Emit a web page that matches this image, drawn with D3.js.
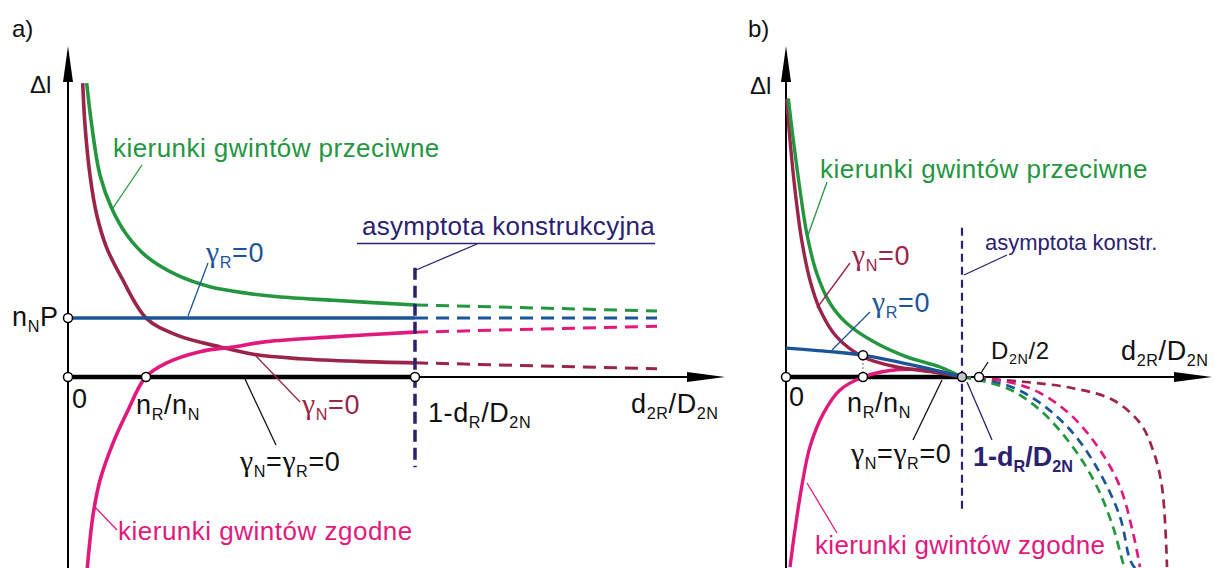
<!DOCTYPE html>
<html>
<head>
<meta charset="utf-8">
<title>Δl – d2R/D2N</title>
<script src="https://d3js.org/d3.v7.min.js"></script>
<style>
  body { margin: 0; background: #fff; }
  svg { display: block; font-family: "Liberation Sans", Arial, sans-serif; }
</style>
</head>
<body>
<svg width="1214" height="568"></svg>
<script>
var GREEN = "#24963f", MAROON = "#9b2549", BLUE = "#1c5597", PINK = "#e1197d", NAVY = "#2a2170";

// ---- panel a) : x in 1/100 of axis length, y in units of nN*P ----
var aGreen  = [[0.187,4.98],[0.237,4.27],[0.32,3.42],[0.437,2.86],[0.587,2.41],[0.787,2.04],[1.087,1.73],[1.42,1.53],[1.787,1.42],[2.10,1.36],[2.65,1.30],[3.47,1.22]];
var aMaroon = [[0.147,4.98],[0.17,4.27],[0.22,3.42],[0.287,2.75],[0.387,2.19],[0.537,1.68],[0.787,0.99],[1.087,0.71],[1.52,0.51],[1.87,0.38],[2.32,0.31],[2.9,0.265],[3.47,0.24]];
var aPink   = [[0.193,-3.24],[0.22,-2.76],[0.253,-2.31],[0.32,-1.75],[0.45,-1.12],[0.587,-0.61],[0.777,0],[0.987,0.24],[1.32,0.43],[1.65,0.51],[1.987,0.60],[2.65,0.68],[3.47,0.76]];
var aBlue   = [[0,1],[3.47,1]];
var aGreenD  = [[3.47,1.22],[5.89,1.12]];
var aBlueD   = [[3.47,1],[5.89,1]];
var aPinkD   = [[3.47,0.76],[5.89,0.86]];
var aMaroonD = [[3.47,0.24],[5.89,0.14]];
var aAsym = [[3.47,1.85],[3.47,-1.53]];
var aPoints = [[0,0],[0.78,0],[3.47,0],[0,1]];

// ---- panel b) ----
var bGreen  = [[0.023,4.72],[0.073,4.02],[0.14,3.17],[0.207,2.44],[0.307,1.76],[0.44,1.25],[0.607,0.91],[0.873,0.60],[1.207,0.34],[1.54,0.17],[1.76,0]];
var bMaroon = [[0.007,4.72],[0.04,4.02],[0.09,3.17],[0.157,2.32],[0.24,1.64],[0.34,1.14],[0.507,0.68],[0.773,0.34],[1.107,0.17],[1.44,0.09],[1.76,0]];
var bBlue   = [[0,0.49],[0.44,0.43],[0.77,0.37],[1.27,0.20],[1.76,0]];
var bPink   = [[0.04,-3.22],[0.09,-2.59],[0.157,-1.86],[0.24,-1.18],[0.373,-0.62],[0.54,-0.22],[0.773,0],[1.04,0.11],[1.307,0.13],[1.54,0.09],[1.76,0]];
var bGreenD  = [[1.76,0],[2.21,-0.19],[2.54,-0.56],[2.87,-1.19],[3.11,-1.86],[3.27,-2.54],[3.37,-3.15],[3.39,-3.24]];
var bBlueD   = [[1.76,0],[2.21,-0.14],[2.54,-0.44],[2.87,-0.95],[3.14,-1.63],[3.34,-2.37],[3.44,-3.10],[3.49,-3.24]];
var bPinkD   = [[1.76,0],[2.21,-0.08],[2.54,-0.27],[2.87,-0.68],[3.14,-1.24],[3.34,-1.86],[3.47,-2.64],[3.54,-3.22]];
var bMaroonD = [[1.76,0],[2.37,-0.08],[2.87,-0.19],[3.27,-0.39],[3.54,-0.78],[3.67,-1.24],[3.76,-1.86],[3.81,-3.22]];
var bAsym = [[1.76,2.53],[1.76,-2.29]];
var bPoints = [[0,0],[0.77,0],[0.77,0.37],[1.93,0]];
var bCross = [[1.76,0]];

var svg = d3.select("svg");

var xA = d3.scaleLinear().domain([0, 6.57]).range([68, 725]);
var xB = d3.scaleLinear().domain([0, 4.26]).range([786, 1212]);
var y  = d3.scaleLinear().domain([0, 1]).range([377, 318]);

function lineFor(xs) {
  return d3.line().x(function(d){ return xs(d[0]); }).y(function(d){ return y(d[1]); })
    .curve(d3.curveCatmullRom.alpha(0.5));
}

function axes(xs, thickEnd, yTop) {
  var x0 = xs(0), y0 = y(0), xEnd = xs.range()[1];
  svg.append("line").attr("x1", x0).attr("y1", 78).attr("x2", x0).attr("y2", 568)
    .attr("stroke", "#000").attr("stroke-width", 2);
  svg.append("path").attr("d", "M" + x0 + "," + yTop + "L" + (x0 - 5) + ",82L" + (x0 + 5) + ",82Z").attr("fill", "#000");
  svg.append("line").attr("x1", x0).attr("y1", y0).attr("x2", xEnd - 36).attr("y2", y0)
    .attr("stroke", "#000").attr("stroke-width", 2);
  svg.append("line").attr("x1", x0).attr("y1", y0).attr("x2", xs(thickEnd)).attr("y2", y0)
    .attr("stroke", "#000").attr("stroke-width", 4.5);
  svg.append("path").attr("d", "M" + xEnd + "," + y0 + "L" + (xEnd - 38) + "," + (y0 - 5) + "L" + (xEnd - 38) + "," + (y0 + 5) + "Z").attr("fill", "#000");
}

function curve(xs, data, color, w, dash) {
  var p = svg.append("path").datum(data).attr("d", lineFor(xs))
    .attr("fill", "none").attr("stroke", color).attr("stroke-width", w);
  if (dash) p.attr("stroke-dasharray", dash);
}

function dots(xs, data, fill) {
  svg.selectAll(null).data(data).enter().append("circle")
    .attr("cx", function(d){ return xs(d[0]); }).attr("cy", function(d){ return y(d[1]); })
    .attr("r", 4.5).attr("fill", fill || "#fff").attr("stroke", "#000").attr("stroke-width", 1.5);
}

// text with subscripts: parts are strings, {s:"sub"} or {g:"γ"}
function label(x, yy, parts, color, size, opts) {
  opts = opts || {};
  var t = svg.append("text").attr("x", x).attr("y", yy).attr("fill", color)
    .style("font-size", size + "px").style("letter-spacing", (opts.ls == null ? 0.6 : opts.ls) + "px");
  if (opts.bold) t.style("font-weight", "bold");
  var down = false;
  parts.forEach(function(p) {
    var ts = t.append("tspan");
    if (typeof p === "string") {
      ts.text(p); if (down) { ts.attr("dy", -size * 0.22); down = false; }
    } else if (p.g) {
      ts.text(p.g).style("font-family", "'Liberation Serif', serif").style("font-size", (size * 1.1) + "px");
      if (down) { ts.attr("dy", -size * 0.22); down = false; }
    } else {
      ts.text(p.s).style("font-size", (size * 0.6) + "px");
      if (!down) { ts.attr("dy", size * 0.22); down = true; }
    }
  });
  return t;
}

function leader(pts, color) {
  svg.append("path").attr("d", d3.line()(pts)).attr("fill", "none")
    .attr("stroke", color).attr("stroke-width", 1.3);
}

// ================= panel a =================
axes(xA, 3.47, 46);
curve(xA, aGreenD, GREEN, 3, "13,8");
curve(xA, aBlueD, BLUE, 3, "13,8");
curve(xA, aPinkD, PINK, 3, "13,8");
curve(xA, aMaroonD, MAROON, 3, "13,8");
curve(xA, aGreen, GREEN, 3.6);
curve(xA, aMaroon, MAROON, 3.6);
curve(xA, aPink, PINK, 3.6);
curve(xA, aBlue, BLUE, 3.6);
svg.append("line").attr("x1", xA(aAsym[0][0])).attr("y1", y(aAsym[0][1]))
  .attr("x2", xA(aAsym[1][0])).attr("y2", y(aAsym[1][1]))
  .attr("stroke", NAVY).attr("stroke-width", 3.5).attr("stroke-dasharray", "12,6");
dots(xA, aPoints);

label(12, 37, ["a)"], "#111", 24, {ls: 0});
label(30, 93, ["\u0394l"], "#111", 24, {ls: 0});
label(12, 326, ["n", {s:"N"}, "P"], "#111", 27);
label(72, 408, ["0"], "#111", 27);
label(136, 414, ["n", {s:"R"}, "/n", {s:"N"}], "#111", 27);
label(428, 422, ["1-d", {s:"R"}, "/D", {s:"2N"}], "#111", 27);
label(631, 413, ["d", {s:"2R"}, "/D", {s:"2N"}], "#111", 27);
label(113, 157, ["kierunki gwintów przeciwne"], GREEN, 26, {ls: 0.45});
label(362, 235, ["asymptota konstrukcyjna"], NAVY, 26, {ls: 0.3});
label(206, 262, [{g:"γ"}, {s:"R"}, "=0"], BLUE, 27);
label(302, 414, [{g:"γ"}, {s:"N"}, "=0"], MAROON, 27);
label(240, 471, [{g:"γ"}, {s:"N"}, "=", {g:"γ"}, {s:"R"}, "=0"], "#111", 27);
label(118, 540, ["kierunki gwintów zgodne"], PINK, 26, {ls: 0.5});

svg.append("line").attr("x1", 357).attr("y1", 243.5).attr("x2", 655).attr("y2", 243.5)
  .attr("stroke", NAVY).attr("stroke-width", 1.5);
leader([[477, 244], [416, 270]], NAVY);
leader([[142, 165], [113, 208]], GREEN);
leader([[208, 263], [188, 316]], BLUE);
leader([[300, 402], [255, 355]], MAROON);
leader([[276, 445], [245, 379]], "#111");
leader([[117, 530], [95, 507]], PINK);

// ================= panel b =================
axes(xB, 1.76, 46);
curve(xB, bMaroonD, MAROON, 2.7, "9,6");
curve(xB, bPinkD, PINK, 2.7, "9,6");
curve(xB, bBlueD, BLUE, 2.7, "9,6");
curve(xB, bGreenD, GREEN, 2.7, "9,6");
curve(xB, bPink, PINK, 3.4);
curve(xB, bMaroon, MAROON, 3.4);
curve(xB, bGreen, GREEN, 3.4);
curve(xB, bBlue, BLUE, 3.4);
svg.append("line").attr("x1", xB(bPoints[1][0])).attr("y1", y(bPoints[1][1]))
  .attr("x2", xB(bPoints[2][0])).attr("y2", y(bPoints[2][1]))
  .attr("stroke", "#777").attr("stroke-width", 1).attr("stroke-dasharray", "2,2");
svg.append("line").attr("x1", xB(bAsym[0][0])).attr("y1", y(bAsym[0][1]))
  .attr("x2", xB(bAsym[1][0])).attr("y2", y(bAsym[1][1]))
  .attr("stroke", NAVY).attr("stroke-width", 2.2).attr("stroke-dasharray", "8,5");
dots(xB, bPoints);
dots(xB, bCross, "#c8c8c8");

label(748, 37, ["b)"], "#111", 24, {ls: 0});
label(750, 94, ["\u0394l"], "#111", 24, {ls: 0});
label(789, 406, ["0"], "#111", 27);
label(847, 412, ["n", {s:"R"}, "/n", {s:"N"}], "#111", 27);
label(991, 359, ["D", {s:"2N"}, "/2"], "#111", 24);
label(1121, 360, ["d", {s:"2R"}, "/D", {s:"2N"}], "#111", 27);
label(820, 178, ["kierunki gwintów przeciwne"], GREEN, 26, {ls: 0.5});
label(985, 250, ["asymptota konstr."], NAVY, 22, {ls: 0});
label(852, 265, [{g:"γ"}, {s:"N"}, "=0"], MAROON, 27);
label(872, 312, [{g:"γ"}, {s:"R"}, "=0"], BLUE, 27);
label(851, 463, [{g:"γ"}, {s:"N"}, "=", {g:"γ"}, {s:"R"}, "=0"], "#111", 27);
label(973, 466, ["1-d", {s:"R"}, "/D", {s:"2N"}], NAVY, 27, {bold: true, ls: 0});
label(815, 554, ["kierunki gwintów zgodne"], PINK, 26, {ls: 0.3});

leader([[827, 182], [807, 238]], GREEN);
leader([[850, 263], [817, 308]], MAROON);
leader([[870, 312], [832, 350]], BLUE);
leader([[1007, 255], [964, 275]], NAVY);
leader([[988, 362], [981, 373]], "#111");
leader([[913, 440], [942, 380]], "#111");
leader([[992, 440], [967, 382]], NAVY);
leader([[837, 533], [807, 483]], PINK);
</script>
</body>
</html>
